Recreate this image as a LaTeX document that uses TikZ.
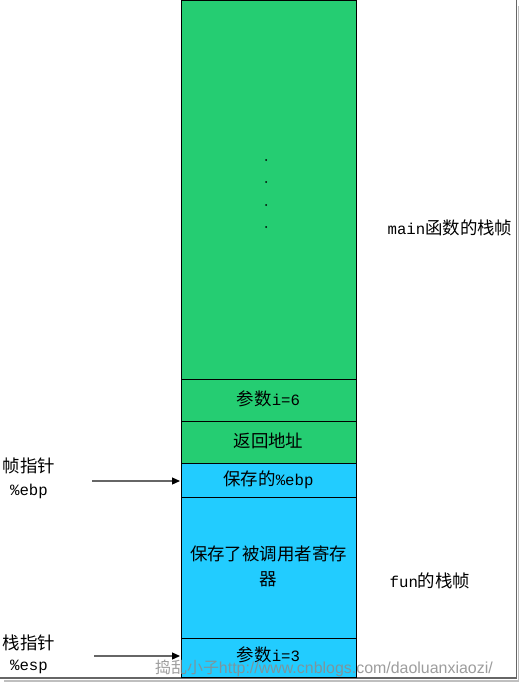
\documentclass[tikz,border=0pt]{standalone}
\usepackage{fontspec}
\setmainfont{Liberation Serif}
\newfontfamily\cjk{Noto Sans CJK SC}
\newfontfamily\mono[Scale=0.9]{Liberation Mono}
\newfontfamily\wmfont{Liberation Sans}
\usetikzlibrary{arrows.meta}
\definecolor{frgreen}{HTML}{25CD72}
\definecolor{frblue}{HTML}{22CCFF}
\begin{document}
\begin{tikzpicture}[x=1bp,y=-1bp,
  cell/.style={draw=black,line width=1bp},
  lbl/.style={font=\cjk\fontsize{17.5}{25}\selectfont,inner sep=0,align=center},
  ptr/.style={draw=black!60,line width=1.2bp,-{Triangle[length=8bp,width=7bp,fill=black,color=black]}},
  dotc/.style={fill=black,circle,inner sep=0,minimum size=2bp}]
\useasboundingbox (0,0) rectangle (519,682);
\fill[white] (0,0) rectangle (519,682);
% frame shadow
\draw[black!60,line width=1.2bp] (516.5,0) -- (516.5,678) -- (0,678);
\draw[black!25,line width=2bp] (518.5,6) -- (518.5,681) -- (4,681);
% stack cells
\draw[cell,fill=frgreen] (181,1) rectangle (356,379);
\draw[cell,fill=frgreen] (181,379) rectangle (356,421);
\draw[cell,fill=frgreen] (181,421) rectangle (356,463);
\draw[cell,fill=frblue] (181,463) rectangle (356,497);
\draw[cell,fill=frblue] (181,497) rectangle (356,638);
\draw[cell,fill=frblue] (181,638) rectangle (356,677);
% dots
\node[dotc] (d1) at (266,160) {};
\node[dotc] (d2) at (266,182) {};
\node[dotc] (d3) at (266,205) {};
\node[dotc] (d4) at (266,227) {};
% cell texts
\node[lbl] (p6) at (268.5,399) {参数{\mono i=6}};
\node[lbl] (ret) at (268.5,441) {返回地址};
\node[lbl] (ebp) at (268.5,480) {保存的{\mono\%ebp}};
\node[lbl] (saved) at (268.5,566) {保存了被调用者寄存\\器};
\node[lbl] (p3) at (268.5,655) {参数{\mono i=3}};
% side labels
\node[lbl] (mainf) at (450,228) {{\mono main}函数的栈帧};
\node[lbl] (funf) at (430,581) {{\mono fun}的栈帧};
\node[lbl] (fp) at (29,466) {帧指针};
\node[lbl] (fpr) at (29,491) {{\mono\%ebp}};
\node[lbl] (sp) at (29,643) {栈指针};
\node[lbl] (spr) at (29,667) {{\mono\%esp}};
% pointer arrows
\coordinate (a1s) at (92,481);
\coordinate (a1e) at (180,481);
\coordinate (a2s) at (94,656);
\coordinate (a2e) at (180,656);
\draw[ptr] (a1s) -- (a1e);
\draw[ptr] (a2s) -- (a2e);
% watermark
\node[font=\wmfont\fontsize{16}{18}\selectfont,text=black!45,opacity=0.85,inner sep=0,anchor=west] (wm) at (155,668) {{\cjk 捣乱小子}http://www.cnblogs.com/daoluanxiaozi/};
\end{tikzpicture}
\end{document}
